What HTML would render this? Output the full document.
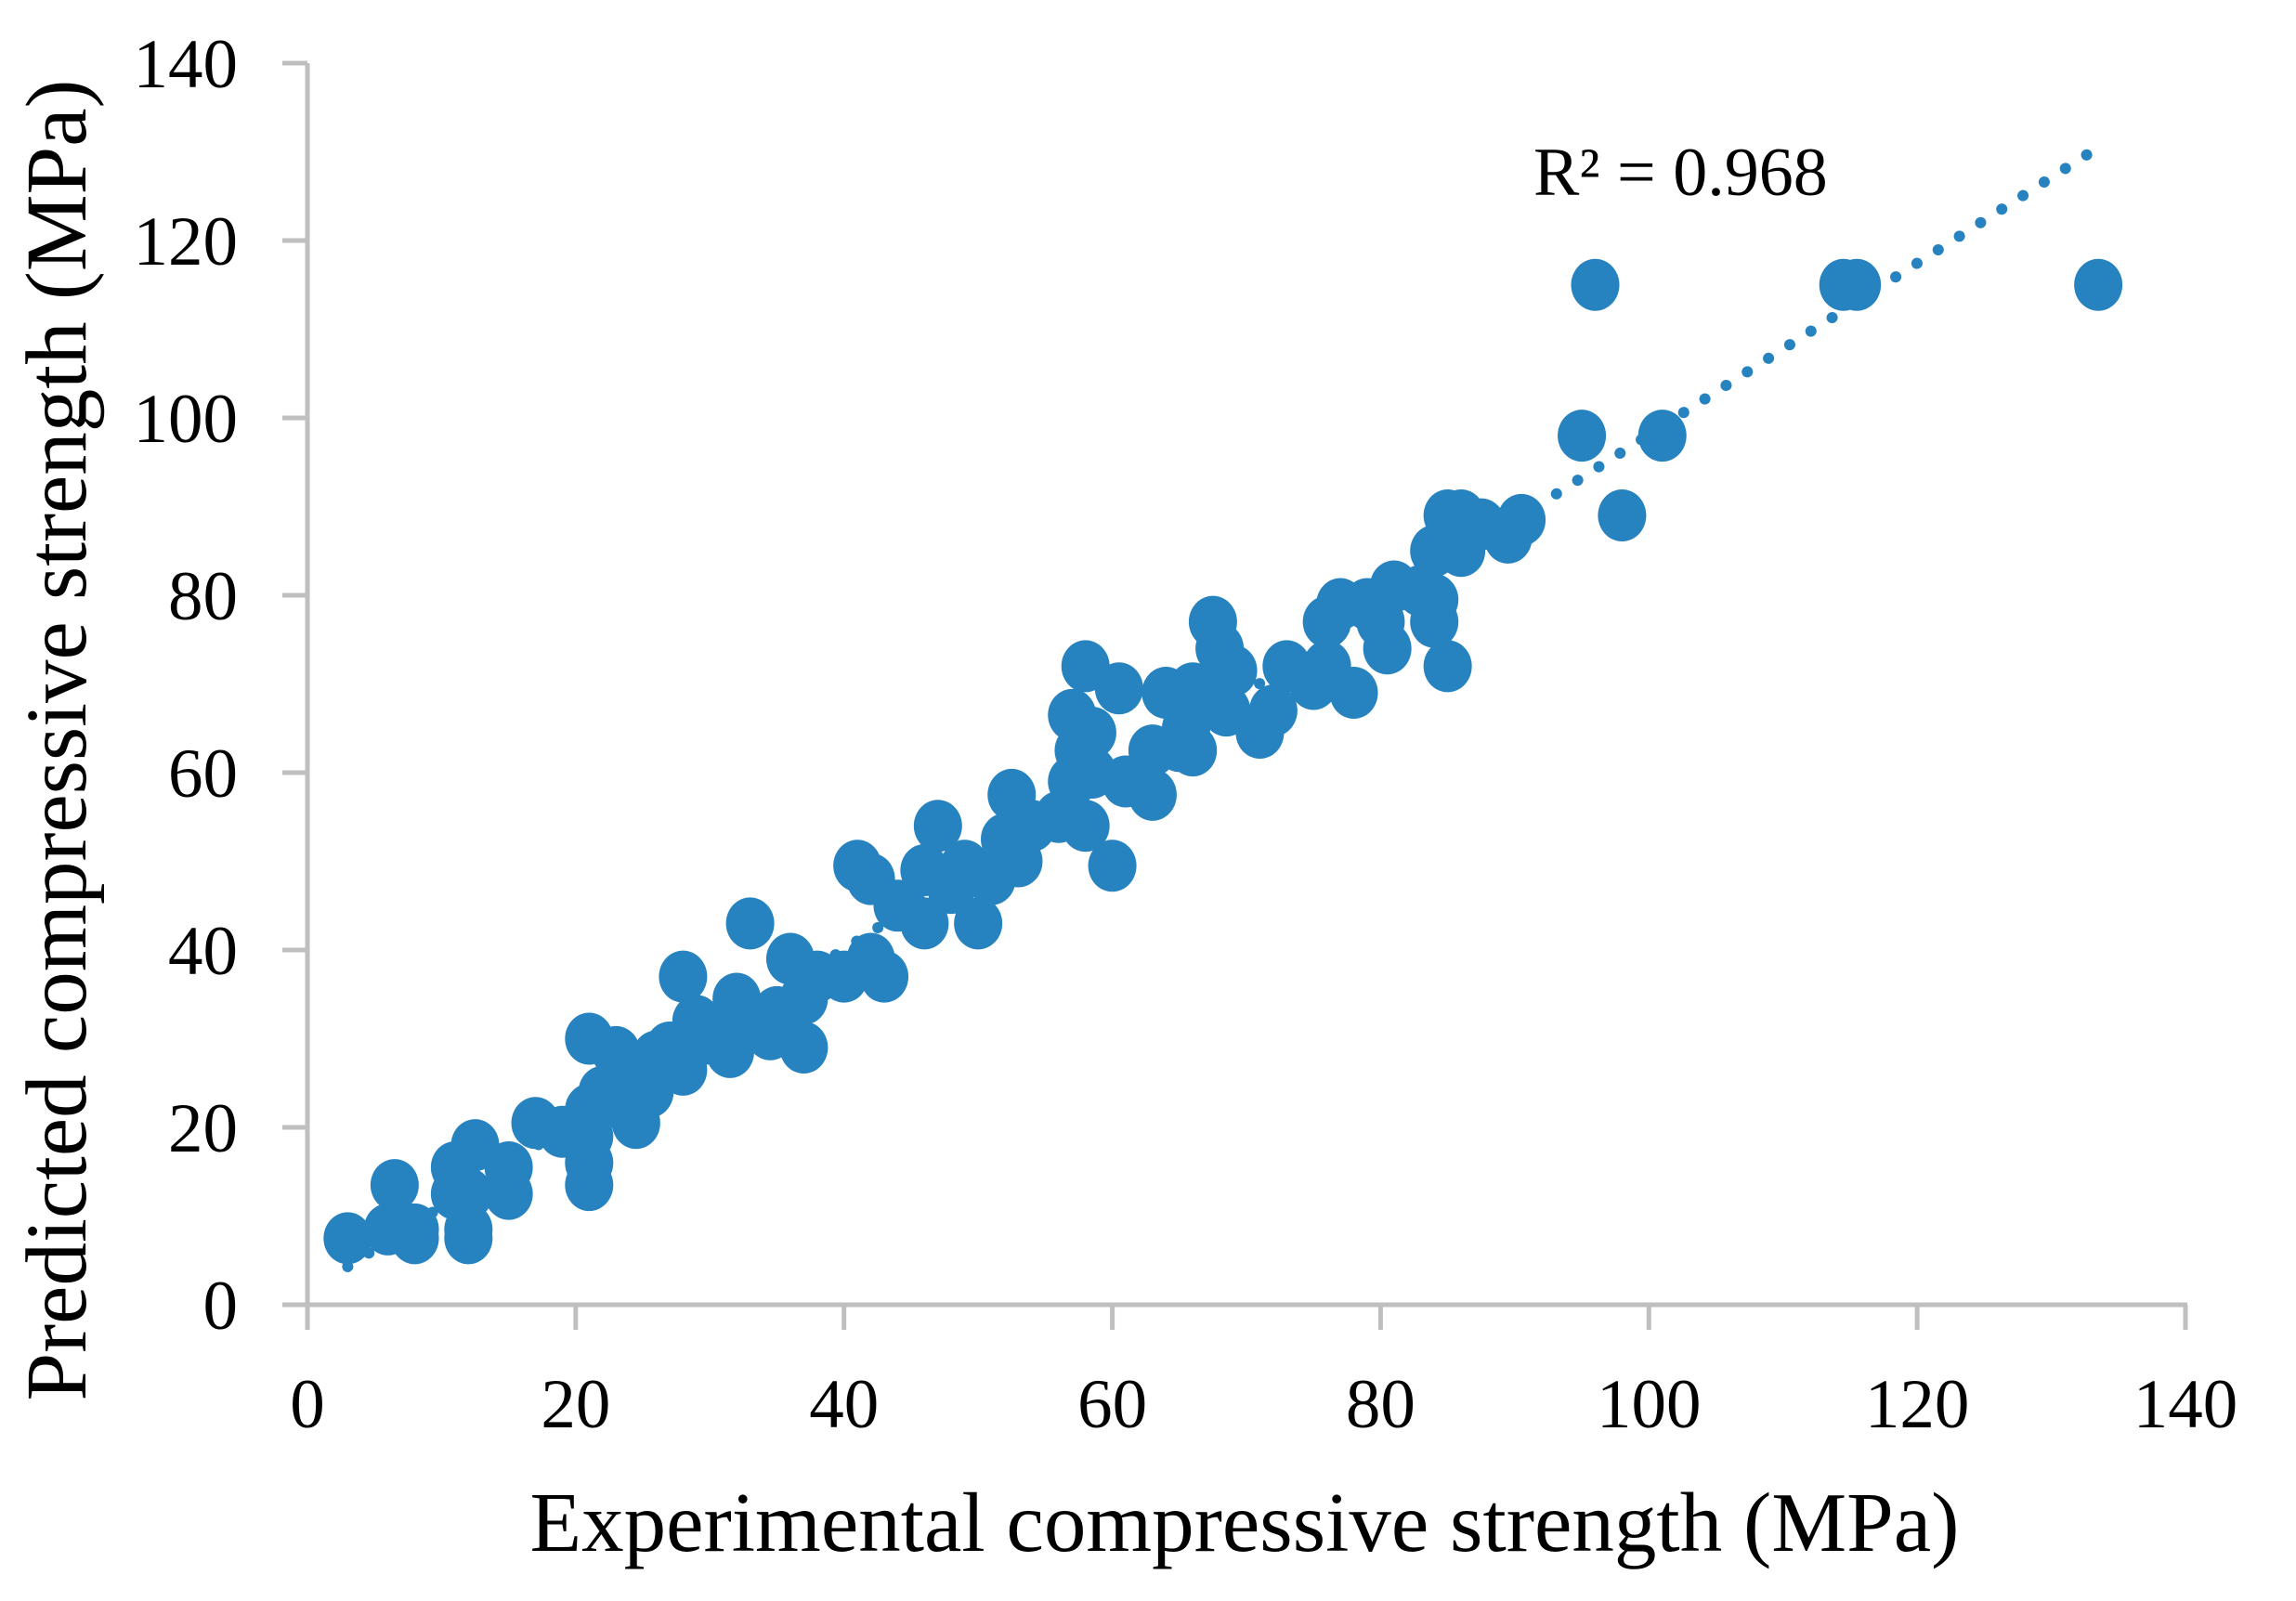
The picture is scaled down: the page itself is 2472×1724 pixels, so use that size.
<!DOCTYPE html>
<html><head><meta charset="utf-8"><style>
html,body{margin:0;padding:0;background:#fff;}
svg{display:block;}
text{font-family:"Liberation Serif",serif;fill:#000;}
</style></head><body>
<svg id="chart" width="2472" height="1724" viewBox="0 0 2472 1724">
<g id="axes"></g>
<g id="trend"></g>
<g id="points"></g>
<text x="1651" y="210" font-size="74">R² = 0.968</text>
<text x="1340" y="1670" font-size="91" text-anchor="middle">Experimental compressive strength (MPa)</text>
<text transform="translate(92,797) rotate(-90)" font-size="93" text-anchor="middle">Predicted compressive strength (MPa)</text>
</svg>
<script>
const xTicks=[0,20,40,60,80,100,120,140];
const yTicks=[0,20,40,60,80,100,120,140];
const expVals=[3,6.5,6,8,8,11,11,12.5,12,12,12,15,15,17,19,21,21,21,21,21,22,23,23,24,24.5,25,25.5,26,27,28,28,29,30,31.5,32,33,33,34.5,35,36,37,37,38,40,41,42,42,43,44,46,46,47,48,49,50,51,52,52.5,53,54,56,57,57,57.5,58,58,58.5,58.5,60,60.5,61,63,63,64,65,65.5,66,66,67.5,68,68.5,69,71,72,73,75,76,76,77,78,79,80,80.5,81,83,84,84,84,85,85,86,86,87.5,89.5,90.5,95,96,98,101,114.5,115.5,133.5];
const predVals=[7.5,13.5,8.5,8.5,7.5,15.5,12.5,18,12.5,8.5,7.5,15.5,12.5,20.5,19.5,30,22,19,16,13.5,24,28.5,25,22,20.5,26,24,28,29,26.5,37,32,30,28.5,34.5,43,32,30.5,33,39,29,34.5,37,37,49.5,39,48,37,45,43,49,54,47,49.5,43,48,52.5,57.5,50,54,55,66.5,59,62.5,72,54,64.5,60,49.5,69.5,59,57.5,62.5,69,63,65,69.5,62.5,77,74,67,71.5,64.5,67,72,70,77,72,79,69,79,77,74,81,80.5,79.5,77,85,89,72,85,89,88,86.5,88.5,98,115,89,98,115,115,115];
const trendSlope=0.967, trendIntercept=1.4, trendStart=3, trendEnd=133;
const X0=331,X1=2353,Y0=1405,Y1=68;
const sx=v=>X0+(X1-X0)*v/140;
const sy=v=>Y0-(Y0-Y1)*v/140;
const NS="http://www.w3.org/2000/svg";
function mk(t,a,p){const e=document.createElementNS(NS,t);for(const k in a)e.setAttribute(k,a[k]);p.appendChild(e);return e;}
const axes=document.getElementById('axes');
const grey="#bfbfbf";
let l=mk('line',{x1:X0,y1:Y0,x2:X1+2,y2:Y0,stroke:grey,'stroke-width':5},axes);

l=mk('line',{x1:X0,y1:Y1,x2:X0,y2:Y0,stroke:grey,'stroke-width':5},axes);

xTicks.forEach(v=>{
  const t=mk('line',{x1:sx(v),y1:Y0,x2:sx(v),y2:Y0+27,stroke:grey,'stroke-width':5},axes);
  
  
  const tx=mk('text',{x:sx(v),y:1537,'font-size':75,'text-anchor':'middle'},axes);tx.textContent=v;
  
  
});
yTicks.forEach(v=>{
  const t=mk('line',{x1:X0-27,y1:sy(v),x2:X0,y2:sy(v),stroke:grey,'stroke-width':5},axes);
  
  
  const tx=mk('text',{x:256,y:sy(v)+26,'font-size':75,'text-anchor':'end'},axes);tx.textContent=v;
  
  
});
const trend=document.getElementById('trend');
const tl=mk('line',{x1:sx(trendStart),y1:sy(trendStart*trendSlope+trendIntercept),x2:sx(trendEnd),y2:sy(trendEnd*trendSlope+trendIntercept),stroke:'#2783c0','stroke-width':12,'stroke-linecap':'round','stroke-dasharray':'0.1 27'},trend);


const pts=document.getElementById('points');
expVals.forEach((x,i)=>{
  const c=mk('ellipse',{cx:sx(x),cy:sy(predVals[i]),rx:26,ry:28,fill:'#2783c0'},pts);
  
  
});
</script>
</body></html>
